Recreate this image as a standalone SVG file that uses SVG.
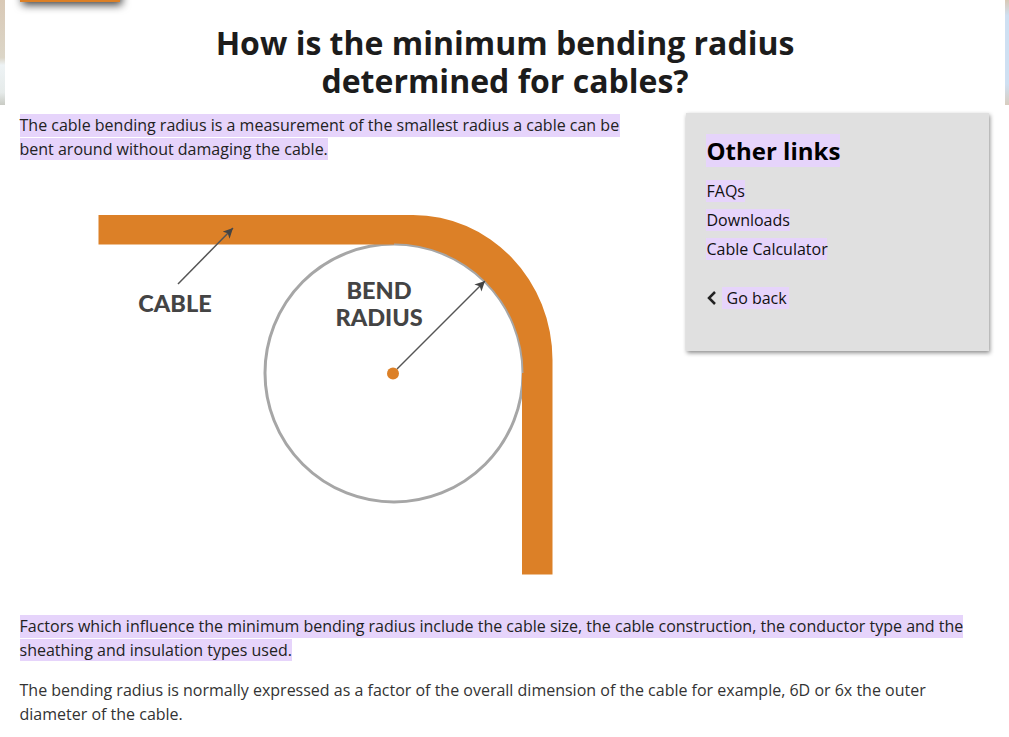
<svg xmlns="http://www.w3.org/2000/svg" width="1009" height="737" viewBox="0 0 1009 737">
<defs>
<style>
text{font-family:"Open Sans","Liberation Sans",sans-serif;font-size:16px;fill:#222}
.hl{fill:#e6d4fb}
.t{font-size:32px;font-weight:700;fill:#1c1c1c;text-anchor:middle}
.lnk{fill:#111}
.lab{font-family:Lato,"Open Sans",sans-serif;font-size:23.500px;font-weight:900;fill:#444;text-anchor:middle}
.arr{stroke:#555;stroke-width:1.500;fill:none;marker-end:url(#ah)}
</style>
<marker id="ah" markerUnits="userSpaceOnUse" markerWidth="12" markerHeight="12" refX="10" refY="5" orient="auto"><path d="M0 0L10 5L0 10L2.500 5Z" fill="#444"/></marker>
<filter id="sh" x="-10%" y="-10%" width="120%" height="120%"><feDropShadow dx="1" dy="2" stdDeviation="2" flood-color="#000" flood-opacity=".45"/></filter>
<filter id="sh2" x="-20%" y="-20%" width="140%" height="180%"><feDropShadow dx="2" dy="3" stdDeviation="4" flood-color="#000" flood-opacity=".75"/></filter>
<linearGradient id="bgl" x1="0" y1="0" x2="0" y2="1"><stop offset="0" stop-color="#d9c9b6"/><stop offset=".55" stop-color="#dcd6c8"/><stop offset=".62" stop-color="#eef3f5"/><stop offset=".88" stop-color="#e6ebea"/><stop offset="1" stop-color="#c9cbc4"/></linearGradient>
<linearGradient id="bgr" x1="0" y1="0" x2="0" y2="1"><stop offset="0" stop-color="#d9c9b6"/><stop offset=".15" stop-color="#cfe0f2"/><stop offset=".8" stop-color="#cfe0f2"/><stop offset="1" stop-color="#d8cdbf"/></linearGradient>
</defs>
<rect width="1009" height="737" fill="#fff"/>
<rect x="0" y="0" width="5" height="105" fill="url(#bgl)"/>
<rect x="1005" y="0" width="4" height="105" fill="url(#bgr)"/>
<rect id="top-button" x="20" y="-20" width="100" height="22" fill="#dc8027" filter="url(#sh2)"/>
<g id="title">
<text class="t" x="505" y="55">How is the minimum bending radius</text>
<text class="t" x="505" y="93">determined for cables?</text>
</g>
<g id="intro">
<rect class="hl" x="20" y="114" width="600" height="23"/>
<rect class="hl" x="20" y="138" width="308" height="22"/>
<text x="19.500" y="131">The cable bending radius is a measurement of the smallest radius a cable can be</text>
<text x="19.500" y="155">bent around without damaging the cable.</text>
</g>
<g id="bend-circle"><circle cx="394" cy="373" r="129" fill="#fff" stroke="#a6a6a6" stroke-width="3"/></g>
<g id="cable"><path d="M98.500 215H413A139.500 145 0 0 1 552.500 360V574.500H522V373H523.500A129.500 129.500 0 0 0 394 243.500V244.500H98.500Z" fill="#dc8027"/></g>
<g id="connectors">
<path class="arr" d="M178 284L233 228"/>
<path class="arr" d="M397 369L485 281"/>
</g>
<g id="center"><circle cx="393" cy="373.500" r="6" fill="#dc8027"/></g>
<g id="label-cable"><text class="lab" x="175" y="312">CABLE</text></g>
<g id="label-bend">
<text class="lab" x="379" y="299">BEND</text>
<text class="lab" x="379" y="326">RADIUS</text>
</g>
<g id="sidebar">
<rect x="686" y="113" width="303" height="238" fill="#e0e0e0" filter="url(#sh)"/>
<rect class="hl" x="706" y="134" width="134" height="33"/>
<text x="706.500" y="160" style="font-size:24px;font-weight:700;fill:#000">Other links</text>
<rect class="hl" x="706" y="180" width="39" height="22"/>
<text class="lnk" x="706.500" y="197">FAQs</text>
<rect class="hl" x="706" y="209" width="84" height="22"/>
<text class="lnk" x="706.500" y="226">Downloads</text>
<rect class="hl" x="706" y="238" width="121" height="22"/>
<text class="lnk" x="706.500" y="255">Cable Calculator</text>
<path d="M715 292L709 298L715 304" fill="none" stroke="#222" stroke-width="2.500"/>
<rect class="hl" x="722" y="287" width="67" height="22"/>
<text class="lnk" x="726.500" y="304">Go back</text>
</g>
<g id="factors">
<rect class="hl" x="20" y="615" width="943" height="23"/>
<rect class="hl" x="20" y="639" width="272" height="22"/>
<text x="19.500" y="632">Factors which influence the minimum bending radius include the cable size, the cable construction, the conductor type and the</text>
<text x="19.500" y="656">sheathing and insulation types used.</text>
</g>
<g id="expressed">
<text x="19.500" y="696" style="fill:#333">The bending radius is normally expressed as a factor of the overall dimension of the cable for example, 6D or 6x the outer</text>
<text x="19.500" y="720" style="fill:#333">diameter of the cable.</text>
</g>
</svg>
